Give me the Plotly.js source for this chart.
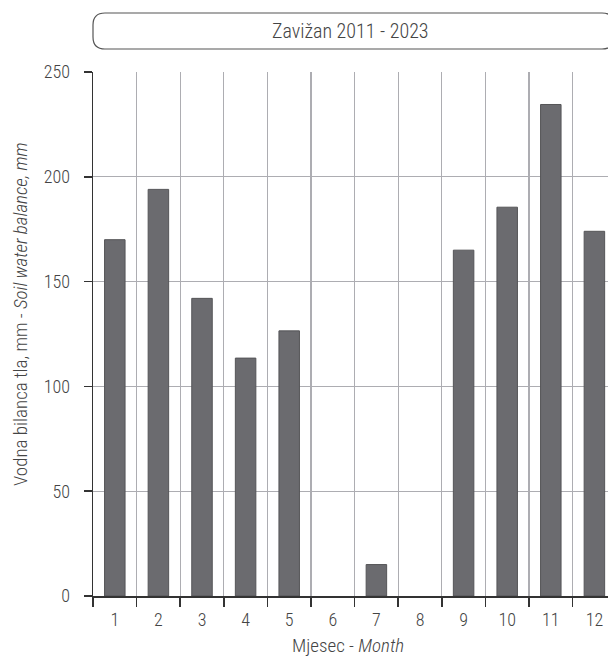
<!DOCTYPE html>
<html>
<head>
<meta charset="utf-8">
<script src="https://cdn.plot.ly/plotly-3.0.1.min.js"></script>
<style>
html,body{margin:0;padding:0;background:#fff;}
#chart{width:608px;height:658px;}
</style>
</head>
<body>
<div id="chart"></div>
<script>
const months = [1,2,3,4,5,6,7,8,9,10,11,12];
const monthLabels = ['1','2','3','4','5','6','7','8','9','10','11','12'];
const soilWaterBalance = [170, 194, 142, 113.5, 126.5, 0, 15, 0, 165, 185.5, 234.5, 174];
const yTickVals = [0, 50, 100, 150, 200, 250];
const chartTitle = 'Zavižan 2011 - 2023';
const xTitle = 'Mjesec - <i>Month</i>';
const yTitle = 'Vodna bilanca tla, mm - <i>Soil water balance, mm</i>';

const FONT = '"Roboto Condensed", Roboto, "Liberation Sans", Arial, sans-serif';
const TXT = '#444444';
const WEIGHT = 300;

const W = 608, H = 658;
const margin = {l: 93, r: 0, t: 72, b: 62};
const pw = W - margin.l - margin.r, ph = H - margin.t - margin.b;
function px2x(p){ return (p - margin.l) / pw; }
function py2y(p){ return (H - margin.b - p) / ph; }
const bx0 = px2x(93), bx1 = px2x(614), by0 = py2y(49), by1 = py2y(13);
const rx = 12 / pw, ry = 12 / ph;
const boxPath = `M ${bx0+rx},${by1} L ${bx1-rx},${by1} Q ${bx1},${by1} ${bx1},${by1-ry} L ${bx1},${by0+ry} Q ${bx1},${by0} ${bx1-rx},${by0} L ${bx0+rx},${by0} Q ${bx0},${by0} ${bx0},${by0+ry} L ${bx0},${by1-ry} Q ${bx0},${by1} ${bx0+rx},${by1} Z`;

const data = [{
  type: 'bar',
  x: months,
  y: soilWaterBalance,
  width: 0.47,
  marker: {color: '#6b6b6f', line: {color: '#555558', width: soilWaterBalance.map(v => v > 0 ? 1 : 0)}},
  hoverinfo: 'x+y'
}];

function f(size){ return {family: FONT, size: size, color: TXT, weight: WEIGHT}; }

const layout = {
  width: W, height: H,
  margin: margin,
  paper_bgcolor: '#fff', plot_bgcolor: '#fff',
  showlegend: false,
  font: f(18),
  xaxis: {
    range: [0.5, 0.5 + pw / 43.6],
    tickmode: 'array', tickvals: months, ticktext: monthLabels,
    ticks: '', showgrid: false, zeroline: false,
    showline: true, linecolor: '#333', linewidth: 1.5,
    tickfont: f(18),
    ticklabelstandoff: 7,
    minor: {tick0: 0.5, dtick: 1, ticks: 'outside', ticklen: 9, tickwidth: 1.5, tickcolor: '#333',
            showgrid: true, gridcolor: '#adadb2', gridwidth: 1.3},
    fixedrange: true
  },
  yaxis: {
    range: [0, 250],
    tickmode: 'array', tickvals: yTickVals,
    ticks: 'outside', ticklen: 8, tickwidth: 1.5, tickcolor: '#333',
    showgrid: true, gridcolor: '#adadb2', gridwidth: 1.3,
    zeroline: false, showline: true, linecolor: '#333', linewidth: 1.5,
    tickfont: f(18),
    ticklabelstandoff: 10,
    fixedrange: true
  },
  shapes: [{
    type: 'path', xref: 'paper', yref: 'paper', path: boxPath,
    line: {color: '#555', width: 1.2}, fillcolor: 'rgba(0,0,0,0)'
  }],
  annotations: [{
    xref: 'paper', yref: 'paper', x: px2x(350), y: py2y(31),
    text: chartTitle, showarrow: false,
    xanchor: 'center', yanchor: 'middle',
    font: f(20)
  }, {
    xref: 'paper', yref: 'paper', x: px2x(348), y: py2y(645),
    text: xTitle, showarrow: false,
    xanchor: 'center', yanchor: 'middle',
    font: f(19)
  }, {
    xref: 'paper', yref: 'paper', x: px2x(20), y: py2y(314),
    text: yTitle, showarrow: false, textangle: -90,
    xanchor: 'center', yanchor: 'middle',
    font: f(19)
  }]
};

Plotly.newPlot('chart', data, layout, {displayModeBar: false, staticPlot: true});
</script>
</body>
</html>
